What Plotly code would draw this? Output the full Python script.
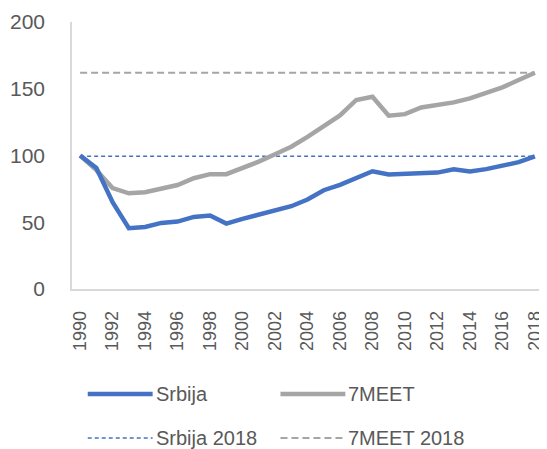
import plotly.graph_objects as go

years = list(range(1990, 2019))
srbija = [100, 90.6, 65, 45.6, 46.5, 49.5, 50.5, 54, 55, 49, 52.5, 55.5, 59, 62, 67, 74, 78, 83, 88.2, 85.8, 86.3, 87.5, 87.2, 89.6, 88, 89.8, 92.6, 95, 99.3]
meet7 = [100, 89, 75.6, 71.7, 72.5, 74.9, 77.9, 83, 86, 86, 90.4, 95.4, 101, 106.6, 114, 122, 130, 141.6, 144, 129.8, 131, 136, 138, 139.8, 142.8, 146.6, 151, 156.5, 162]
srbija_2018 = [99.5] * len(years)
meet7_2018 = [162] * len(years)
tick_years = list(range(1990, 2019, 2))
tick_labels = [str(y) for y in tick_years]

BLUE = "#4472C4"
GRAY = "#A5A5A5"
FONT = "Liberation Sans, Arial, sans-serif"

# page body has an 8px default margin -> figure is 8px smaller, all coords shifted by -8
W, H = 539, 441
L, R, T, B = 58, 2, 14, 160
PW, PH = W - L - R, H - T - B

fig = go.Figure()
fig.add_trace(go.Scatter(x=years, y=srbija_2018, mode="lines", name="Srbija 2018",
                         line=dict(color=BLUE, width=1.5, dash="4px,3px")))
fig.add_trace(go.Scatter(x=years, y=meet7_2018, mode="lines", name="7MEET 2018",
                         line=dict(color=GRAY, width=2, dash="7px,4px")))
fig.add_trace(go.Scatter(x=years, y=meet7, mode="lines", name="7MEET",
                         line=dict(color=GRAY, width=4.5)))
fig.add_trace(go.Scatter(x=years, y=srbija, mode="lines", name="Srbija",
                         line=dict(color=BLUE, width=4.5)))

fig.update_layout(
    width=W, height=H,
    margin=dict(l=L, r=R, t=T, b=B),
    paper_bgcolor="white", plot_bgcolor="white",
    showlegend=False,
    font=dict(family=FONT, color="#595959"),
)
fig.update_xaxes(range=[1989.5, 2018.5], tickmode="array", tickvals=tick_years, ticktext=tick_labels,
                 tickangle=-90, tickfont=dict(size=18, color="#595959"), showgrid=False,
                 ticklabeloverflow="allow",
                 showline=True, linecolor="#D9D9D9", linewidth=1.5, ticks="outside", ticklen=13,
                 tickcolor="rgba(0,0,0,0)", zeroline=False)
fig.update_yaxes(range=[0, 200], tickvals=[0, 50, 100, 150, 200], tickfont=dict(size=21, color="#595959"),
                 showgrid=False, showline=True, linecolor="#D9D9D9", linewidth=1.5, zeroline=False,
                 ticks="outside", ticklen=21, tickcolor="rgba(0,0,0,0)")

# legend drawn manually (two columns x two rows), pixel positions in figure coords
legend_items = [
    ("Srbija", BLUE, 4.5, "solid", 0, 386),
    ("7MEET", GRAY, 4.5, "solid", 1, 386),
    ("Srbija 2018", BLUE, 1.5, "4px,3px", 0, 430),
    ("7MEET 2018", GRAY, 2, "7px,4px", 1, 430),
]
col_x = [74, 270]
for name, color, w, dash, col, ypix in legend_items:
    x0 = col_x[col]
    yy = (H - ypix - B) / PH
    fig.add_shape(type="line", xref="paper", yref="paper",
                  x0=(x0 - L) / PW, x1=(x0 + 66 - L) / PW, y0=yy, y1=yy,
                  line=dict(color=color, width=w, dash=dash))
    fig.add_annotation(xref="paper", yref="paper", x=(x0 + 67 - L) / PW, y=yy,
                       text=name, showarrow=False, xanchor="left", yanchor="middle",
                       font=dict(size=20, color="#595959", family=FONT))

fig.write_html("out.html")
